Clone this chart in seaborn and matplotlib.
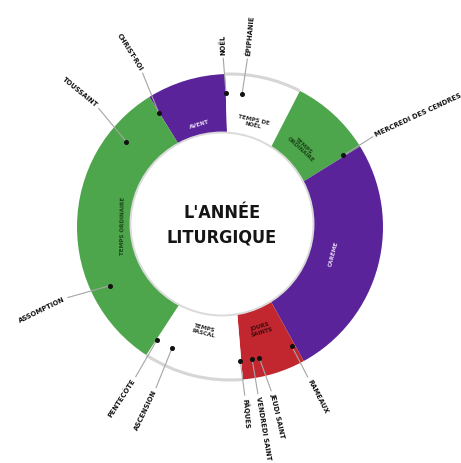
import numpy as np
import matplotlib
matplotlib.use("Agg")
import matplotlib.pyplot as plt
import seaborn as sns
from matplotlib.patches import Circle, Arc

# ---------------- data ----------------
seasons = ["AVENT", "TEMPS DE\nNOËL", "TEMPS\nORDINAIRE", "CARÊME",
           "JOURS\nSAINTS", "TEMPS\nPASCAL", "TEMPS ORDINAIRE"]
season_span = [30, 29, 31, 93, 24, 38, 115]          # share of the wheel (degrees)
season_kind = ["purple", "white", "green", "purple", "red", "white", "green"]

events = ["NOËL", "ÉPIPHANIE", "MERCREDI DES CENDRES", "RAMEAUX", "JEUDI SAINT",
          "VENDREDI SAINT", "PÂQUES", "ASCENSION", "PENTECÔTE", "ASSOMPTION",
          "TOUSSAINT", "CHRIST-ROI"]
event_angle = [91.7, 84.8, 32.3, -62.6, -77.4, -80.5, -85.6, 244.4, 237.1, 206.0,
               140.6, 122.0]

title = "L'ANNÉE\nLITURGIQUE"

# ---------------- style ----------------
sns.set_theme(style="white")
FONT = ["DejaVu Sans"]
plt.rcParams["font.family"] = FONT
plt.rcParams["font.stretch"] = "condensed"

fill = {"purple": "#5b2399", "white": "#ffffff", "green": "#4ea64c", "red": "#c2272f"}
ink = {"purple": "#e4d8f2", "white": "#2b2b2b", "green": "#1c461b", "red": "#3d0a0c"}

# layout tweaks (label placement only)
rot_override = {"MERCREDI DES CENDRES": 25}
label_nudge = {"CHRIST-ROI": -2.4, "TOUSSAINT": -2.7, "ASSOMPTION": -2.5,
               "JEUDI SAINT": 1.5, "NOËL": 0.6, "ÉPIPHANIE": -0.7,
               "ASCENSION": 0.9, "PENTECÔTE": 0.7, "PÂQUES": 0.6}

W, H = 461, 463
fig = plt.figure(figsize=(W / 100, H / 100), dpi=100)
ax = fig.add_axes([0, 0, 1, 1])

cx, cy = 230, H - 227          # wheel centre
R_out = 153
icx, icy, R_in = 222, H - 224, 91.5

wedges, _ = ax.pie(season_span, colors=[fill[k] for k in season_kind],
                   startangle=121.8, counterclock=False, radius=R_out,
                   center=(cx, cy), wedgeprops=dict(linewidth=0))

# grey rims on the white seasons
for w, k in zip(wedges, season_kind):
    if k == "white":
        ax.add_patch(Arc((cx, cy), 2 * R_out, 2 * R_out, theta1=w.theta1, theta2=w.theta2,
                         color="#d6d6d6", lw=2.2, zorder=3))

# inner hole
ax.add_patch(Circle((icx, icy), R_in, facecolor="white", edgecolor="#dadada", lw=1.4, zorder=4))

# season labels inside the ring
for w, lab, k in zip(wedges, seasons, season_kind):
    mid = 0.5 * (w.theta1 + w.theta2)
    r = 107
    x = cx + r * np.cos(np.radians(mid))
    y = cy + r * np.sin(np.radians(mid))
    rot = (mid - 90 + 180) % 360 - 180
    if rot <= -90:
        rot += 180
    elif rot > 90:
        rot -= 180
    ax.text(x, y, lab, rotation=rot, rotation_mode="anchor", ha="center", va="center",
            fontsize=4.5, fontweight="bold", color=ink[k], linespacing=1.0, zorder=5)

# event markers with leader lines
r_dot = 134
for name, ang in zip(events, event_angle):
    a = np.radians(ang)
    ux, uy = np.cos(a), np.sin(a)
    outward = ux >= -0.1
    r_txt = 172 if outward else 180
    la = np.radians(ang + label_nudge.get(name, 0.0))
    lx, ly = np.cos(la), np.sin(la)
    ax.plot([cx + r_dot * ux, cx + (r_txt - 3) * lx], [cy + r_dot * uy, cy + (r_txt - 3) * ly],
            color="#a5a5a5", lw=0.8, zorder=6)
    ax.plot(cx + r_dot * ux, cy + r_dot * uy, "o", color="#111111", ms=2.6, zorder=7)
    rot = ang if outward else ang - 180
    rot = rot_override.get(name, rot)
    ax.text(cx + r_txt * lx, cy + r_txt * ly, name, rotation=rot, rotation_mode="anchor",
            ha="left" if outward else "right", va="center", fontsize=5.4,
            fontweight="bold", color="#111111", zorder=8)

# centre title
ax.text(icx, icy - 1, title, ha="center", va="center", fontsize=13, fontweight="bold",
        color="#151515", linespacing=1.45, zorder=9)

ax.set_xlim(0, W)
ax.set_ylim(0, H)
ax.set_aspect("auto")
ax.axis("off")
fig.savefig("out.png", dpi=100, facecolor="white")
